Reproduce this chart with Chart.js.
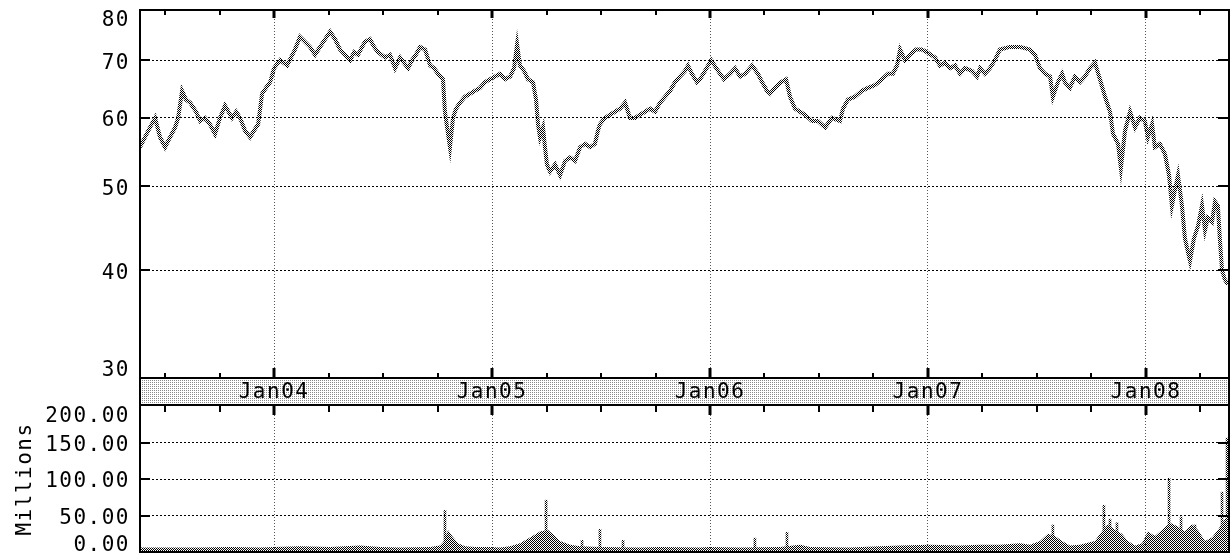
<!DOCTYPE html>
<html><head><meta charset="utf-8">
<script src="https://cdn.jsdelivr.net/npm/chart.js@4.4.1/dist/chart.umd.min.js"></script>
<style>
html,body{margin:0;padding:0;background:#fff;}
#wrap{position:relative;width:1232px;height:554px;overflow:hidden;background:#fff;}
#c1{position:absolute;left:0;top:0;width:1232px;height:406px;}
#c2{position:absolute;left:0;top:406px;width:1232px;height:148px;}
</style></head><body>
<div id="wrap"><canvas id="c1" width="1232" height="406"></canvas><canvas id="c2" width="1232" height="148"></canvas></div>
<script>
// ---------- DATA ----------
const X_MIN = 2003.385, X_MAX = 2008.381;
const quarterTicks = [2003.5,2003.75,2004,2004.25,2004.5,2004.75,2005,2005.25,2005.5,2005.75,2006,2006.25,2006.5,2006.75,2007,2007.25,2007.5,2007.75,2008,2008.25];
const yearTicks = [2004,2005,2006,2007,2008];
const yearLabels = ['Jan04','Jan05','Jan06','Jan07','Jan08'];
const priceTicks = [30,40,50,60,70,80];
const priceTickLabels = ['30','40','50','60','70','80'];
const volTicks = [0,50,100,150,200];
const volTickLabels = ['0.00','50.00','100.00','150.00','200.00'];

const priceDates = [2003.385,2003.408,2003.431,2003.454,2003.477,2003.500,2003.523,2003.546,2003.560,2003.578,2003.596,2003.615,2003.642,2003.661,2003.683,2003.706,2003.729,2003.752,2003.775,2003.807,2003.826,2003.844,2003.867,2003.890,2003.908,2003.927,2003.945,2003.963,2003.982,
2004.000,2004.028,2004.060,2004.078,2004.096,2004.119,2004.142,2004.165,2004.188,2004.211,2004.234,2004.257,2004.280,2004.303,2004.326,2004.349,2004.367,2004.385,2004.404,2004.417,2004.440,2004.459,2004.477,2004.509,2004.532,2004.555,2004.578,2004.596,2004.615,2004.633,2004.651,2004.670,2004.693,2004.716,2004.734,2004.752,2004.775,2004.784,2004.794,2004.807,2004.821,2004.835,2004.853,2004.876,2004.899,2004.922,2004.945,2004.968,2004.991,
2005.014,2005.037,2005.060,2005.083,2005.101,2005.115,2005.128,2005.147,2005.165,2005.188,2005.202,2005.211,2005.220,2005.234,2005.243,2005.252,2005.266,2005.289,2005.312,2005.335,2005.358,2005.381,2005.404,2005.427,2005.450,2005.472,2005.486,2005.495,2005.518,2005.541,2005.564,2005.587,2005.610,2005.633,2005.656,2005.679,2005.702,2005.725,2005.748,2005.771,2005.794,2005.817,2005.839,2005.862,2005.885,2005.899,2005.917,2005.940,2005.954,2005.977,
2006.005,2006.037,2006.064,2006.092,2006.115,2006.138,2006.161,2006.193,2006.220,2006.239,2006.261,2006.275,2006.298,2006.326,2006.349,2006.367,2006.390,2006.413,2006.436,2006.468,2006.495,2006.528,2006.560,2006.596,2006.610,2006.633,2006.665,2006.697,2006.725,2006.757,2006.789,2006.817,2006.839,2006.858,2006.872,2006.894,2006.917,2006.945,2006.972,2006.995,
2007.032,2007.055,2007.078,2007.101,2007.124,2007.147,2007.170,2007.202,2007.225,2007.239,2007.261,2007.284,2007.307,2007.330,2007.376,2007.422,2007.468,2007.491,2007.514,2007.537,2007.560,2007.573,2007.596,2007.615,2007.628,2007.651,2007.674,2007.697,2007.720,2007.743,2007.766,2007.789,2007.812,2007.835,2007.849,2007.872,2007.885,2007.904,2007.927,2007.950,2007.972,2007.995,
2008.009,2008.028,2008.041,2008.064,2008.087,2008.106,2008.119,2008.133,2008.147,2008.165,2008.179,2008.202,2008.220,2008.239,2008.257,2008.271,2008.284,2008.303,2008.317,2008.330,2008.339,2008.349,2008.362,2008.376];
const priceClose = [55.5,57,58.5,60,57,55.5,57,58.5,60,64.5,63,62.5,61,59.5,60,59,57.5,60,62,60,61,60,58,57,58,59,64,65,66,
68.5,70,69,70.5,72,74.5,73.5,72.5,71,72.5,74,75.5,74,72,71,70,71.5,71,72.5,73.5,74,72.5,71.5,70.5,71,68.5,70.5,69.5,68.5,70,71,72.5,72,69,68.5,67.5,66.5,61,58.5,55.5,60,61.5,62.5,63.5,64,64.5,65,66,66.5,
67,67.5,66.5,67,68.5,73,69,68,66.5,66,63,59,57,58.5,55.5,53,52,53,51.5,53.5,54,53.5,55.5,56,55.5,56,58,59,60,60.5,61,61.5,62.5,60,60,60.5,61,61.5,61,62.5,63.5,64.5,66,67,68,69,67.5,66,66.5,68,
70,68,66.5,67.5,68.5,67,67.5,69,67.5,66,64.5,64,65,66,66.5,63.5,61.5,61,60.5,59.5,59.5,58.5,60,59.5,61.5,63,63.5,64.5,65,65.5,66.5,67.5,67.5,69,72,70,71,72,72,71.5,
70.5,69,69.5,68.5,69,67.5,68.5,68,67,68.5,67.5,68.5,70,72,72.5,72.5,72,71,68.5,67.5,67,63.5,66,67.5,66,65,67,66,67,68.5,69.5,66.5,63.5,61,57.5,56,52.5,58,61,58.5,60,59.5,
57,59,55.5,56,54.5,51.5,47.5,49.5,51.5,47.5,43.5,41,43.5,45,47.5,44.5,46,45.5,48,47.5,43.5,40,39,38.5];

const volDates = [2003.385,2003.661,2003.798,2003.936,2004.000,2004.119,2004.257,2004.394,2004.486,2004.578,2004.716,2004.761,2004.780,2004.798,2004.817,2004.844,2004.876,2004.922,2004.991,2005.037,2005.083,2005.128,2005.174,2005.220,2005.257,2005.289,2005.312,2005.358,2005.404,2005.495,2005.679,2005.771,2005.954,2005.995,2006.138,2006.321,2006.413,2006.459,2006.642,2006.780,2006.872,2007.009,2007.147,2007.239,2007.330,2007.422,2007.468,2007.514,2007.550,2007.583,2007.615,2007.651,2007.697,2007.766,2007.789,2007.826,2007.858,2007.890,2007.917,2007.950,2007.982,2008.009,2008.041,2008.073,2008.110,2008.147,2008.179,2008.211,2008.239,2008.271,2008.303,2008.330,2008.362,2008.381];
const volMillions = [6,6,7,6,7,8,7,9,7,6,7,9,15,30,22,12,8,7,7,6,8,12,20,28,30,22,15,10,8,7,6,7,6,7,6,7,10,7,6,8,9,10,9,10,10,12,10,15,25,22,15,9,10,15,25,38,30,25,15,9,12,28,22,30,40,35,28,38,30,15,20,30,45,50];

const spikeDates = [2004.784,2005.248,2005.413,2005.495,2005.601,2006.206,2006.353,2007.573,2007.807,2007.835,2007.867,2008.106,2008.161,2008.225,2008.349,2008.372];
const spikeMillions = [57,71,16,31,16,19,27,37,64,45,40,101,48,37,82,156];

// ---------- STYLE HELPERS ----------
const FONT = 'DejaVu Sans Mono';
const FSIZE = 21;
Chart.defaults.font.family = FONT;
Chart.defaults.font.size = FSIZE;
Chart.defaults.color = '#000';

function makePattern(size, cells, fg, bg){
  const c = document.createElement('canvas'); c.width = size; c.height = size;
  const x = c.getContext('2d');
  if (bg){ x.fillStyle = bg; x.fillRect(0,0,size,size); }
  x.fillStyle = fg; cells.forEach(([i,j]) => x.fillRect(i,j,1,1));
  return x.createPattern(c,'repeat');
}
const checker = makePattern(2, [[0,0],[1,1]], '#000', null);
const stipple = makePattern(2, [[0,0]], '#8a8a8a', '#ffffff');

const isYear = v => v !== undefined && Math.abs(v - Math.round(v)) < 1e-6;

const spacingPlugin = {
  id: 'spacing',
  beforeUpdate(chart){ chart.ctx.letterSpacing = '1.5px'; },
  beforeDraw(chart){ chart.ctx.letterSpacing = '1.5px'; }
};

function line(ctx, x1, y1, x2, y2, w){
  ctx.beginPath(); ctx.lineWidth = w; ctx.moveTo(x1,y1); ctx.lineTo(x2,y2); ctx.stroke();
}

const priceFrame = {
  id: 'priceFrame',
  beforeDraw(chart){
    const ca = chart.chartArea, ctx = chart.ctx;
    ctx.save();
    ctx.fillStyle = stipple;
    ctx.fillRect(ca.left, ca.bottom, ca.right - ca.left, chart.height - ca.bottom);
    ctx.restore();
  },
  afterDraw(chart){
    const ca = chart.chartArea, ctx = chart.ctx, xs = chart.scales.x, ys = chart.scales.y;
    ctx.save();
    ctx.strokeStyle = '#000';
    ctx.lineWidth = 2;
    ctx.strokeRect(ca.left, ca.top, ca.right - ca.left, ca.bottom - ca.top);
    line(ctx, ca.left, ca.bottom, ca.left, chart.height, 2);
    line(ctx, ca.right, ca.bottom, ca.right, chart.height, 2);
    line(ctx, ca.left - 1, chart.height - 1, ca.right + 1, chart.height - 1, 2);
    quarterTicks.forEach(v => {
      const px = Math.round(xs.getPixelForValue(v));
      const yr = isYear(v);
      const w = yr ? 3 : 2;
      line(ctx, px, ca.top, px, ca.top + (yr ? 8 : 5), w);
      line(ctx, px, ca.bottom - (yr ? 10 : 5), px, ca.bottom, w);
    });
    priceTicks.slice(1, -1).forEach(v => {
      const py = Math.round(ys.getPixelForValue(v));
      line(ctx, ca.left, py, ca.left + 10, py, 2);
      line(ctx, ca.right - 11, py, ca.right, py, 2);
    });
    ctx.restore();
  }
};

const volFrame = {
  id: 'volFrame',
  afterDraw(chart){
    const ca = chart.chartArea, ctx = chart.ctx, xs = chart.scales.x, ys = chart.scales.y;
    ctx.save();
    ctx.strokeStyle = '#000';
    line(ctx, ca.left, 0, ca.left, ca.bottom + 1, 2);
    line(ctx, ca.right, 0, ca.right, ca.bottom + 1, 2);
    line(ctx, ca.left - 1, ca.bottom, ca.right + 1, ca.bottom, 2);
    quarterTicks.forEach(v => {
      const px = Math.round(xs.getPixelForValue(v));
      const yr = isYear(v);
      line(ctx, px, 0, px, yr ? 9 : 6, yr ? 3 : 2);
    });
    volTicks.slice(1, -1).forEach(v => {
      const py = Math.round(ys.getPixelForValue(v));
      line(ctx, ca.left, py, ca.left + 10, py, 2);
      line(ctx, ca.right - 11, py, ca.right, py, 2);
    });
    ctx.restore();
  }
};

// ---------- PRICE CHART ----------
new Chart(document.getElementById('c1'), {
  type: 'line',
  data: { datasets: [{
    data: priceDates.map((d, i) => ({x: d, y: priceClose[i]})),
    borderColor: checker, borderWidth: 4, pointRadius: 0, tension: 0, fill: false
  }]},
  options: {
    responsive: false, animation: false, events: [],
    layout: { padding: { left: 0, top: 10, right: 3, bottom: 0 } },
    plugins: { legend: { display: false }, tooltip: { enabled: false } },
    scales: {
      x: {
        type: 'linear', min: X_MIN, max: X_MAX, position: 'bottom', offset: false,
        afterBuildTicks: s => { s.ticks = quarterTicks.map(v => ({value: v})); },
        afterFit: s => { s.height = 28; s.paddingLeft = 0; s.paddingRight = 0; },
        ticks: {
          autoSkip: false, maxRotation: 0, minRotation: 0, padding: 2, color: '#000',
          callback: v => { const k = yearTicks.findIndex(y => Math.abs(y - v) < 1e-6); return k >= 0 ? yearLabels[k] : ''; }
        },
        grid: { offset: false, drawTicks: false, lineWidth: 1, color: c => (c.tick && isYear(c.tick.value)) ? '#555' : 'rgba(0,0,0,0)' },
        border: { display: false, dash: [1, 2] }
      },
      y: {
        type: 'logarithmic', min: 30, max: 80, position: 'left',
        afterBuildTicks: s => { s.ticks = priceTicks.map(v => ({value: v})); },
        afterFit: s => { s.width = 140; s.paddingTop = 0; s.paddingBottom = 0; },
        ticks: {
          autoSkip: false, padding: 10, labelOffset: 3, color: '#000',
          callback: (v, i, t) => {
            const lab = priceTickLabels[i];
            if (i === t.length - 1) return ['', lab];
            if (i === 0) return [lab, ''];
            return lab;
          },
          font: c => ({ family: FONT, size: FSIZE, lineHeight: c.index === priceTicks.length - 1 ? 15 / FSIZE : (c.index === 0 ? 20 / FSIZE : 1.2) })
        },
        grid: { drawTicks: false, lineWidth: 1, color: c => (c.tick && (c.tick.value === 30 || c.tick.value === 80)) ? 'rgba(0,0,0,0)' : '#000' },
        border: { display: false, dash: [2, 2] }
      }
    }
  },
  plugins: [spacingPlugin, priceFrame]
});

// ---------- VOLUME CHART ----------
new Chart(document.getElementById('c2'), {
  type: 'bar',
  data: { datasets: [
    { type: 'line', data: volDates.map((d, i) => ({x: d, y: volMillions[i]})),
      borderColor: 'rgba(0,0,0,0)', borderWidth: 0, backgroundColor: checker, fill: 'origin', pointRadius: 0, tension: 0 },
    { type: 'bar', data: spikeDates.map((d, i) => ({x: d, y: spikeMillions[i]})),
      backgroundColor: checker, barThickness: 2, grouped: false }
  ]},
  options: {
    responsive: false, animation: false, events: [],
    layout: { padding: { left: 0, top: 0, right: 3, bottom: 0 } },
    plugins: { legend: { display: false }, tooltip: { enabled: false } },
    scales: {
      x: {
        type: 'linear', min: X_MIN, max: X_MAX, position: 'bottom', offset: false,
        afterBuildTicks: s => { s.ticks = quarterTicks.map(v => ({value: v})); },
        afterFit: s => { s.height = 2; s.paddingLeft = 0; s.paddingRight = 0; },
        ticks: { display: false, autoSkip: false },
        grid: { offset: false, drawTicks: false, lineWidth: 1, color: c => (c.tick && isYear(c.tick.value)) ? '#555' : 'rgba(0,0,0,0)' },
        border: { display: false, dash: [1, 2] }
      },
      y: {
        type: 'linear', min: 0, max: 200, position: 'left',
        afterBuildTicks: s => { s.ticks = volTicks.map(v => ({value: v})); },
        afterFit: s => { s.width = 140; s.paddingTop = 0; s.paddingBottom = 0; },
        title: { display: true, text: 'Millions', color: '#000', font: { family: FONT, size: FSIZE }, padding: { top: 13, bottom: 0 } },
        ticks: {
          autoSkip: false, padding: 10, labelOffset: 3, color: '#000',
          callback: (v, i, t) => {
            const lab = volTickLabels[i];
            if (i === t.length - 1) return ['', lab];
            if (i === 0) return [lab, ''];
            return lab;
          },
          font: c => ({ family: FONT, size: FSIZE, lineHeight: c.index === volTicks.length - 1 ? 16 / FSIZE : (c.index === 0 ? 19 / FSIZE : 1.2) })
        },
        grid: { drawTicks: false, lineWidth: 1, color: c => (c.tick && (c.tick.value === 0 || c.tick.value === 200)) ? 'rgba(0,0,0,0)' : '#000' },
        border: { display: false, dash: [2, 2] }
      }
    }
  },
  plugins: [spacingPlugin, volFrame]
});
</script>
</body></html>
